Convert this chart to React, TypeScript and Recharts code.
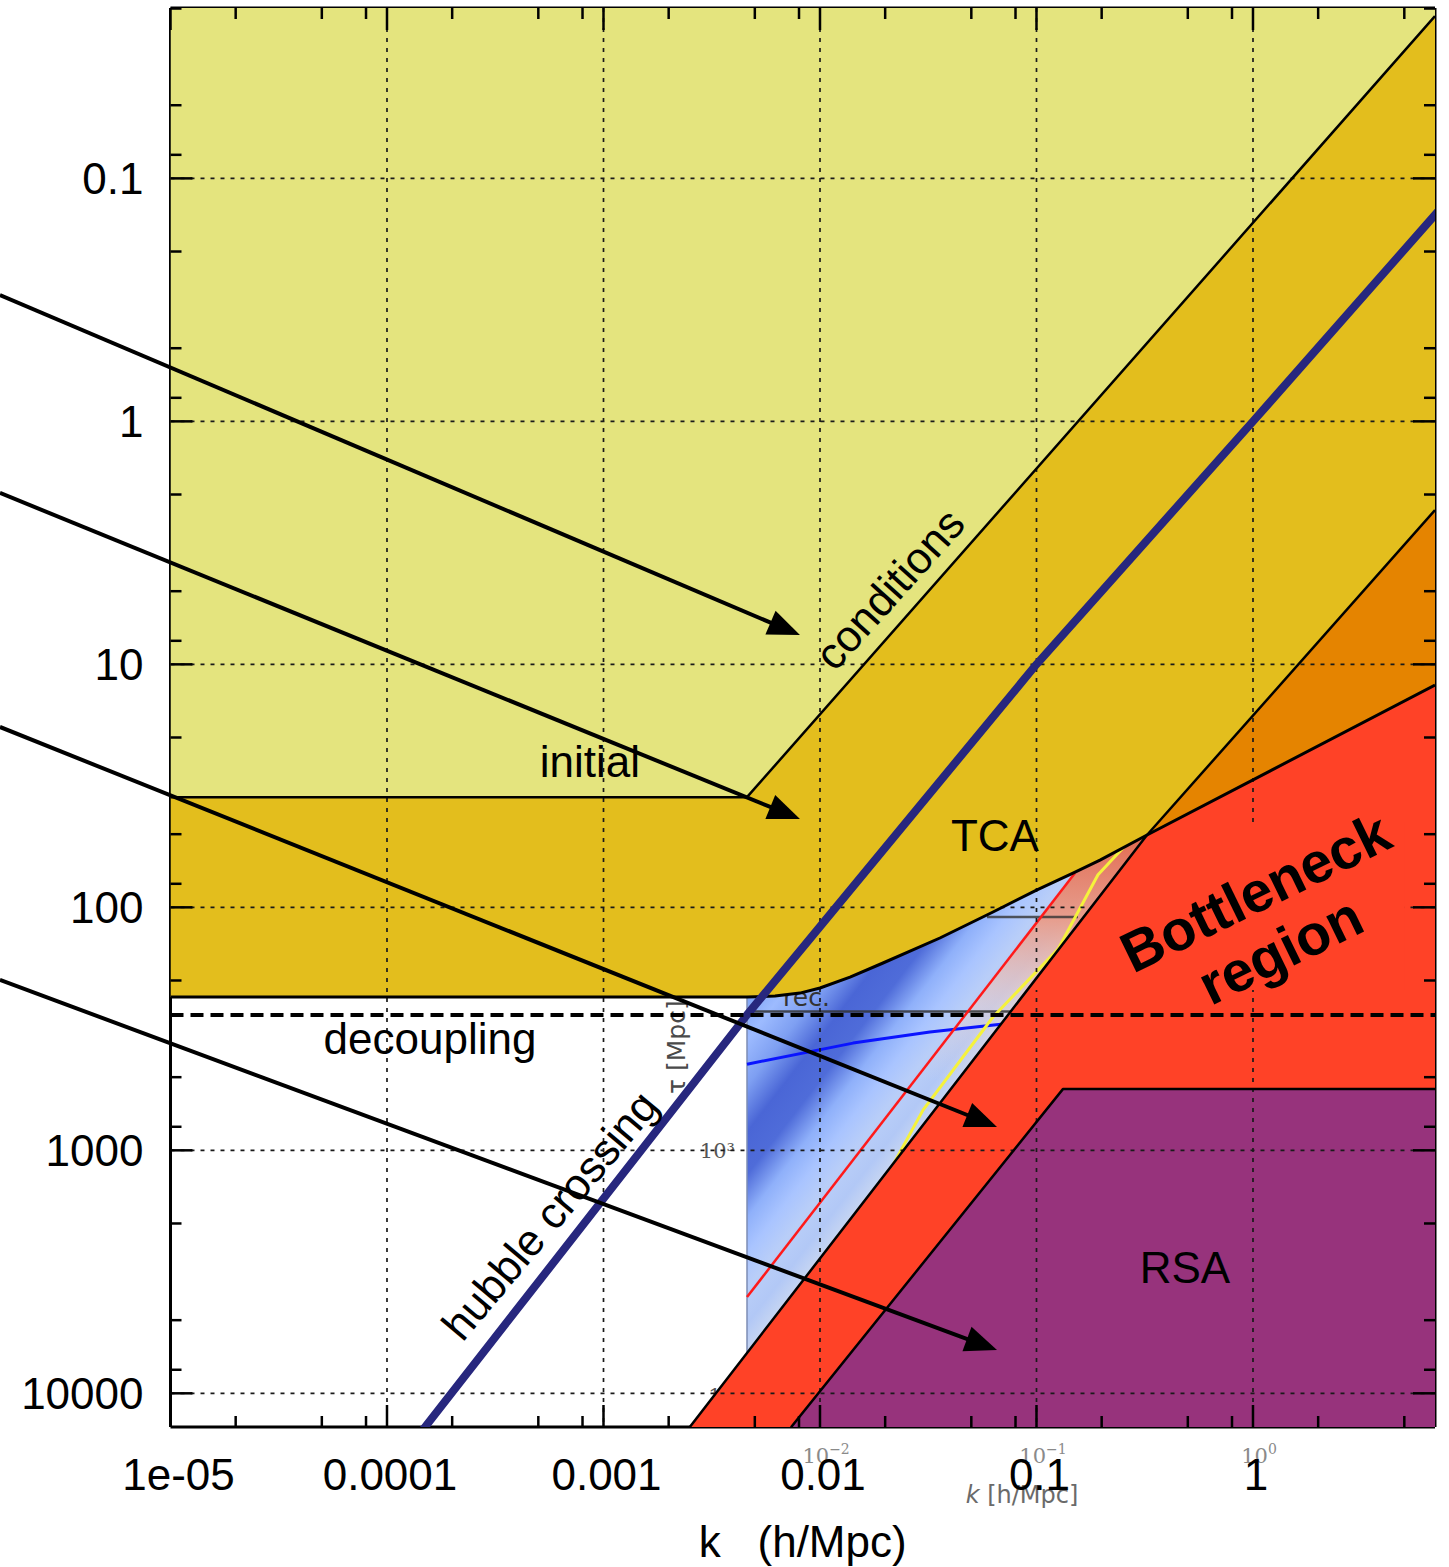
import React from "react";
import {
  ComposedChart,
  XAxis,
  YAxis,
  Scatter,
  ReferenceLine,
  ReferenceDot,
  Label
} from "recharts";

type Pt = { k: number; t: number };
type XY = { x: number; y: number };

// axis ranges (k in h/Mpc, tau in Mpc)
const K_MIN = 1e-5;
const K_MAX = 6.93;
const TAU_MIN = 0.0199;
const TAU_MAX = 13760;

const xMajor = [1e-5, 1e-4, 1e-3, 1e-2, 0.1, 1];
const xMajorLabels = ["1e-05", "0.0001", "0.001", "0.01", "0.1", "1"];
const xMinor = [
  2e-5, 5e-5, 8e-5, 2e-4, 5e-4, 8e-4, 0.002, 0.005, 0.008, 0.02, 0.05, 0.08, 0.2, 0.5, 0.8, 2, 5
];
const yMajor = [0.1, 1, 10, 100, 1000, 10000];
const yMajorLabels = ["0.1", "1", "10", "100", "1000", "10000"];
const yMinor = [
  0.02, 0.05, 0.08, 0.2, 0.5, 0.8, 2, 5, 8, 20, 50, 80, 200, 500, 800, 2000, 5000, 8000
];

// region edges
const icEdge: Pt[] = [
  { k: 1e-5, t: 35.2 },
  { k: 0.0046, t: 35.2 },
  { k: 6.93, t: 0.0215 }
];
const tcaEdge: Pt[] = [
  { k: 1e-5, t: 234 },
  { k: 0.0046, t: 234 },
  { k: 0.0062, t: 231.7 },
  { k: 0.00808, t: 225.3 },
  { k: 0.01, t: 214.8 },
  { k: 0.01376, t: 193.6 },
  { k: 0.01954, t: 169.5 },
  { k: 0.0358, t: 133.7 },
  { k: 0.063, t: 104.5 },
  { k: 0.1, t: 84.9 },
  { k: 0.1475, t: 72.3 },
  { k: 0.1965, t: 63.9 },
  { k: 0.324, t: 50.4 },
  { k: 6.93, t: 12.17 }
];
const bottleneckEdge: Pt[] = [
  { k: 0.0025, t: 13800 },
  { k: 0.324, t: 50.4 },
  { k: 6.93, t: 2.32 }
];
const rsaEdge: Pt[] = [
  { k: 0.00735, t: 13800 },
  { k: 0.1325, t: 560 },
  { k: 6.93, t: 560 }
];
const hubbleCrossing: Pt[] = [
  { k: 1.24e-4, t: 17100 },
  { k: 0.0046, t: 277 },
  { k: 0.01, t: 120 },
  { k: 0.1, t: 10 },
  { k: 1, t: 1 },
  { k: 7.2, t: 0.136 }
];
const decouplingTau = 277;

// pasted-in heat map (inset)
const heatmapBottom: Pt = { k: 0.0046, t: 6808 };
const heatmapGlow: Pt[] = [
  { k: 0.1506, t: 72.3 },
  { k: 0.1965, t: 63.9 },
  { k: 0.324, t: 50.4 },
  { k: 0.0433, t: 514 },
  { k: 0.0274, t: 514 }
];
const recLine: Pt[] = [
  { k: 0.0046, t: 268 },
  { k: 0.076, t: 268 }
];
const upperGrayLine: Pt[] = [
  { k: 0.0591, t: 109.6 },
  { k: 0.1555, t: 109.6 }
];
const blueTrack: Pt[] = [
  { k: 0.0046, t: 442 },
  { k: 0.0142, t: 362 },
  { k: 0.0322, t: 326 },
  { k: 0.07, t: 302 }
];
const redTrack: Pt[] = [
  { k: 0.0046, t: 4018 },
  { k: 0.1506, t: 72.3 }
];
const yellowTrack: Pt[] = [
  { k: 0.02174, t: 1149 },
  { k: 0.0299, t: 683 },
  { k: 0.06299, t: 282.8 },
  { k: 0.1257, t: 148.6 },
  { k: 0.1923, t: 73.5 },
  { k: 0.2591, t: 55.3 }
];
const heatmapTexts = [
  { text: "rec.", k: 0.00675, t: 255 },
  { text: "τ [Mpc]", k: 0.00216, t: 376 },
  { text: "10³", k: 0.00405, t: 1076 },
  { text: "10", k: 0.00405, t: 10965 }
];
const heatmapAxisTicks = [
  { base: "10", exp: "−2", k: 0.01067, t: 19360 },
  { base: "10", exp: "−1", k: 0.1072, t: 19360 },
  { base: "10", exp: "0", k: 1.066, t: 19360 }
];
const heatmapAxisTitle = { k: 0.0857, t: 28280 };

// red patch pasted over the grid behind the "Bottleneck region" text
const bottleneckPatch: Pt[] = [
  { k: 0.324, t: 50.4 },
  { k: 0.4225, t: 44.6 },
  { k: 5.03, t: 44.6 },
  { k: 5.03, t: 218.6 },
  { k: 0.0907, t: 218.6 }
];

const arrows: Pt[][] = [
  [{ k: 1.63e-6, t: 0.302 }, { k: 0.00808, t: 7.58 }],
  [{ k: 1.63e-6, t: 1.97 }, { k: 0.00808, t: 43.3 }],
  [{ k: 1.63e-6, t: 18.1 }, { k: 0.0657, t: 801 }],
  [{ k: 1.63e-6, t: 199 }, { k: 0.0657, t: 6640 }]
];

const regionLabels = [
  { text: "conditions", k: 0.02366, t: 5.386, angle: -48 },
  { text: "initial", k: 8.66e-4, t: 29.1, angle: 0 },
  { text: "TCA", k: 0.0643, t: 58.6, angle: 0 },
  { text: "RSA", k: 0.485, t: 3515, angle: 0 },
  { text: "decoupling", k: 1.58e-4, t: 401.6, angle: 0 },
  { text: "hubble crossing", k: 6.4e-4, t: 2030, angle: -50 }
];
const bottleneckLabels = [
  { text: "Bottleneck", k: 1.124, t: 102.6 },
  { text: "region", k: 1.467, t: 177.8 }
];

const PALE = "#E4E47E";
const GOLD = "#E3BE1D";
const ORANGE = "#E58400";
const RED = "#FF4227";
const PURPLE = "#97337C";
const NAVY = "#27277E";
const FONT = "'Liberation Sans', Arial, Helvetica, sans-serif";
const MAJOR = 22;
const MINOR = 11;

const paleArea: Pt[] = [{ k: K_MIN, t: TAU_MIN }, { k: K_MAX, t: TAU_MIN }, ...[...icEdge].reverse()];
const goldArea: Pt[] = [...icEdge, bottleneckEdge[2], ...tcaEdge.slice(0, -1).reverse()];
const orangeArea: Pt[] = [bottleneckEdge[1], bottleneckEdge[2], tcaEdge[tcaEdge.length - 1]];
const redArea: Pt[] = [
  bottleneckEdge[0],
  bottleneckEdge[1],
  tcaEdge[tcaEdge.length - 1],
  { k: K_MAX, t: 13800 }
];
const purpleArea: Pt[] = [...rsaEdge, { k: K_MAX, t: 13800 }];
const heatmapArea: Pt[] = [...tcaEdge.slice(1, -1), heatmapBottom];
const gridSegments: Pt[] = [
  ...xMajor.slice(1).flatMap((k) => [{ k, t: TAU_MIN }, { k, t: TAU_MAX }]),
  ...yMajor.flatMap((t) => [{ k: K_MIN, t }, { k: K_MAX, t }])
];

const toPath = (pts: XY[], close: boolean) =>
  pts.map((p, i) => `${i ? "L" : "M"}${p.x.toFixed(1)},${p.y.toFixed(1)}`).join(" ") +
  (close ? " Z" : "");

const noDot = () => <g />;

function fillRegion(id: string, data: Pt[], fill: string) {
  return (
    <Scatter
      key={id}
      data={data}
      xAxisId="k"
      yAxisId="tau"
      isAnimationActive={false}
      shape={noDot}
      line={(p: any) => <path d={toPath(p.points, true)} fill={fill} stroke="none" />}
    />
  );
}

function strokePath(id: string, data: Pt[], stroke: string, width: number, dash?: string, opacity = 1) {
  return (
    <Scatter
      key={id}
      data={data}
      xAxisId="k"
      yAxisId="tau"
      isAnimationActive={false}
      shape={noDot}
      line={(p: any) => (
        <path
          d={toPath(p.points, false)}
          fill="none"
          stroke={stroke}
          strokeWidth={width}
          strokeDasharray={dash}
          strokeOpacity={opacity}
          strokeLinejoin="round"
        />
      )}
    />
  );
}

// blue heat map with stripes running along the red track
function renderHeatmap(p: any) {
  const pts: XY[] = p.points;
  const p0 = pts[0];
  const a = pts[pts.length - 2];
  const b = pts[pts.length - 1];
  const len = Math.hypot(b.x - a.x, b.y - a.y);
  let nx = -(b.y - a.y) / len;
  let ny = (b.x - a.x) / len;
  let dist = (a.x - p0.x) * nx + (a.y - p0.y) * ny;
  if (dist < 0) {
    nx = -nx;
    ny = -ny;
    dist = -dist;
  }
  return (
    <g>
      <defs>
        <linearGradient
          id="heatStripes"
          gradientUnits="userSpaceOnUse"
          x1={p0.x}
          y1={p0.y}
          x2={p0.x + nx * dist}
          y2={p0.y + ny * dist}
        >
          <stop offset="0" stopColor="#7FA3F5" />
          <stop offset="0.12" stopColor="#9DBBFF" />
          <stop offset="0.25" stopColor="#7E9FF2" />
          <stop offset="0.38" stopColor="#4A66D6" />
          <stop offset="0.5" stopColor="#4F6CD9" />
          <stop offset="0.62" stopColor="#8FB0FA" />
          <stop offset="0.72" stopColor="#A9C4FF" />
          <stop offset="0.82" stopColor="#B9CEF8" />
          <stop offset="0.92" stopColor="#B2C8F6" />
          <stop offset="1" stopColor="#C6D5F2" />
        </linearGradient>
      </defs>
      <path d={toPath(pts, true)} fill="url(#heatStripes)" stroke="none" />
    </g>
  );
}

function renderGlow(p: any) {
  return (
    <g>
      <defs>
        <linearGradient id="heatGlow" x1="0" y1="0" x2="0" y2="1">
          <stop offset="0" stopColor="#E26A50" stopOpacity={1} />
          <stop offset="0.35" stopColor="#EC9A84" stopOpacity={0.9} />
          <stop offset="0.7" stopColor="#F2CEC3" stopOpacity={0.45} />
          <stop offset="1" stopColor="#F3D8D0" stopOpacity={0} />
        </linearGradient>
      </defs>
      <path d={toPath(p.points, true)} fill="url(#heatGlow)" stroke="none" />
    </g>
  );
}

function renderGrid(p: any) {
  const pts: XY[] = p.points;
  let d = "";
  for (let i = 0; i + 1 < pts.length; i += 2) {
    d += `M${pts[i].x.toFixed(1)},${pts[i].y.toFixed(1)} L${pts[i + 1].x.toFixed(1)},${pts[i + 1].y.toFixed(1)} `;
  }
  return <path d={d} fill="none" stroke="#1a1a1a" strokeWidth={1.7} strokeDasharray="4 6" />;
}

function heatmapText(p: any) {
  const { cx, cy } = p;
  const text = p.payload?.text;
  if (text === "τ [Mpc]") {
    return (
      <text
        x={cx}
        y={cy}
        textAnchor="middle"
        dy="0.35em"
        fontSize={25}
        fontFamily="'DejaVu Sans', sans-serif"
        fill="#4a4a4a"
        transform={`rotate(-90 ${cx} ${cy})`}
      >
        {text}
      </text>
    );
  }
  if (text === "rec.") {
    return (
      <text x={cx} y={cy} fontSize={25} fontFamily="'DejaVu Sans', sans-serif" fill="#333">
        {text}
      </text>
    );
  }
  return (
    <text x={cx} y={cy} textAnchor="end" fontSize={21} fontFamily="'DejaVu Serif', serif" fill="#555">
      {text}
    </text>
  );
}

function arrowShape(p: any) {
  const { x1, y1, x2, y2 } = p;
  const dx = x2 - x1;
  const dy = y2 - y1;
  const len = Math.hypot(dx, dy);
  const ux = dx / len;
  const uy = dy / len;
  const L = 32;
  const W = 13;
  const bx = x2 - ux * L;
  const by = y2 - uy * L;
  return (
    <g>
      <line x1={x1} y1={y1} x2={bx + ux * 4} y2={by + uy * 4} stroke="#000" strokeWidth={4} />
      <path
        d={`M${x2},${y2} L${bx - uy * W},${by + ux * W} L${bx + uy * W},${by - ux * W} Z`}
        fill="#000"
      />
    </g>
  );
}

const tickStroke = { stroke: "#000", strokeWidth: 2.5 };

function bottomTick(p: any) {
  const i = xMajor.indexOf(p.payload.value);
  return (
    <g>
      <line x1={p.x} y1={p.y} x2={p.x} y2={p.y - (i >= 0 ? MAJOR : MINOR)} {...tickStroke} />
      {i >= 0 ? (
        <text
          x={p.x + (i === 0 ? 8 : 3)}
          y={p.y + 63}
          textAnchor="middle"
          fontSize={44}
          fontFamily={FONT}
          fill="#000"
        >
          {xMajorLabels[i]}
        </text>
      ) : null}
    </g>
  );
}

function topTick(p: any) {
  const major = xMajor.includes(p.payload.value);
  return <line x1={p.x} y1={p.y} x2={p.x} y2={p.y + (major ? MAJOR : MINOR)} {...tickStroke} />;
}

function leftTick(p: any) {
  const i = yMajor.indexOf(p.payload.value);
  return (
    <g>
      <line x1={p.x} y1={p.y} x2={p.x + (i >= 0 ? MAJOR : MINOR)} y2={p.y} {...tickStroke} />
      {i >= 0 ? (
        <text x={p.x - 27} y={p.y} dy="0.36em" textAnchor="end" fontSize={44} fontFamily={FONT} fill="#000">
          {yMajorLabels[i]}
        </text>
      ) : null}
    </g>
  );
}

function rightTick(p: any) {
  const major = yMajor.includes(p.payload.value);
  return <line x1={p.x} y1={p.y} x2={p.x - (major ? MAJOR : MINOR)} y2={p.y} {...tickStroke} />;
}

const frame = { stroke: "#000", strokeWidth: 3 };

export default function App() {
  return (
    <div style={{ position: "absolute", left: 0, top: 0, background: "#fff" }}>
      <ComposedChart width={1449} height={1567} margin={{ top: 4, right: 10, bottom: 80, left: 110.5 }}>
        {fillRegion("pale", paleArea, PALE)}
        <Scatter
          data={heatmapArea}
          xAxisId="k"
          yAxisId="tau"
          isAnimationActive={false}
          shape={noDot}
          line={renderHeatmap}
        />
        <Scatter
          data={heatmapGlow}
          xAxisId="k"
          yAxisId="tau"
          isAnimationActive={false}
          shape={noDot}
          line={renderGlow}
        />
        {strokePath("heatEdge", [tcaEdge[1], heatmapBottom], "#7d8db5", 1.5)}
        {strokePath("recLine", recLine, "#333", 2.5, undefined, 0.85)}
        {strokePath("upperGray", upperGrayLine, "#333", 2.5, undefined, 0.8)}
        {strokePath("blueTrack", blueTrack, "#0a14ff", 3)}
        {strokePath("redTrack", redTrack, "#ff1a1a", 2.5)}
        {strokePath("yellowTrack", yellowTrack, "#f5f23c", 3)}
        <Scatter
          data={heatmapTexts}
          xAxisId="k"
          yAxisId="tau"
          isAnimationActive={false}
          shape={heatmapText}
        />
        {fillRegion("gold", goldArea, GOLD)}
        {fillRegion("orange", orangeArea, ORANGE)}
        {fillRegion("red", redArea, RED)}
        {fillRegion("purple", purpleArea, PURPLE)}
        <Scatter
          data={gridSegments}
          xAxisId="k"
          yAxisId="tau"
          isAnimationActive={false}
          shape={noDot}
          line={renderGrid}
        />
        {fillRegion("patch", bottleneckPatch, RED)}
        {strokePath("icEdge", icEdge, "#000", 2.5)}
        {strokePath("tcaEdge", tcaEdge, "#000", 3)}
        {strokePath("bottleneckEdge", bottleneckEdge, "#000", 2.5)}
        {strokePath("rsaEdge", rsaEdge, "#000", 2.5)}
        {strokePath("hubble", hubbleCrossing, NAVY, 8)}
        {strokePath(
          "decoupling",
          [
            { k: K_MIN, t: decouplingTau },
            { k: K_MAX, t: decouplingTau }
          ],
          "#000",
          4,
          "13 7"
        )}

        {arrows.map((a, i) => (
          <ReferenceLine
            key={`arrow${i}`}
            xAxisId="k"
            yAxisId="tau"
            ifOverflow="visible"
            zIndex={1500}
            segment={[
              { x: a[0].k, y: a[0].t },
              { x: a[1].k, y: a[1].t }
            ]}
            shape={arrowShape}
          />
        ))}

        {regionLabels.map((l) => (
          <ReferenceDot
            key={l.text}
            xAxisId="k"
            yAxisId="tau"
            x={l.k}
            y={l.t}
            r={0}
            ifOverflow="visible"
            zIndex={1600}
            shape={(p: any) => (
              <text
                x={p.cx}
                y={p.cy}
                textAnchor="middle"
                fontSize={44}
                fontFamily={FONT}
                fill="#000"
                transform={l.angle ? `rotate(${l.angle} ${p.cx} ${p.cy})` : undefined}
              >
                {l.text}
              </text>
            )}
          />
        ))}
        {bottleneckLabels.map((l) => (
          <ReferenceDot
            key={l.text}
            xAxisId="k"
            yAxisId="tau"
            x={l.k}
            y={l.t}
            r={0}
            ifOverflow="visible"
            zIndex={1600}
            shape={(p: any) => (
              <text
                x={p.cx}
                y={p.cy}
                textAnchor="middle"
                fontSize={57}
                fontWeight="bold"
                fontFamily={FONT}
                fill="#000"
                transform={`rotate(-26 ${p.cx} ${p.cy})`}
              >
                {l.text}
              </text>
            )}
          />
        ))}
        {heatmapAxisTicks.map((l) => (
          <ReferenceDot
            key={l.exp}
            xAxisId="k"
            yAxisId="tau"
            x={l.k}
            y={l.t}
            r={0}
            ifOverflow="visible"
            zIndex={1600}
            shape={(p: any) => (
              <text
                x={p.cx}
                y={p.cy}
                textAnchor="middle"
                fontSize={21}
                fontFamily="'DejaVu Serif', serif"
                fill="#8a8a8a"
              >
                {l.base}
                <tspan dy={-9} fontSize={14}>
                  {l.exp}
                </tspan>
              </text>
            )}
          />
        ))}
        <ReferenceDot
          xAxisId="k"
          yAxisId="tau"
          x={heatmapAxisTitle.k}
          y={heatmapAxisTitle.t}
          r={0}
          ifOverflow="visible"
          zIndex={1600}
          shape={(p: any) => (
            <text
              x={p.cx}
              y={p.cy}
              textAnchor="middle"
              fontSize={24}
              fontFamily="'DejaVu Sans', sans-serif"
              fill="#6a6a6a"
            >
              <tspan fontStyle="italic">k</tspan> [h/Mpc]
            </text>
          )}
        />

        <XAxis
          xAxisId="k"
          dataKey="k"
          type="number"
          scale="log"
          domain={[K_MIN, K_MAX]}
          allowDataOverflow
          ticks={[...xMajor, ...xMinor]}
          interval={0}
          tick={bottomTick}
          tickLine={false}
          tickSize={0}
          tickMargin={0}
          axisLine={frame}
          height={60}
        >
          <Label
            content={(p: any) => {
              const vb = p.viewBox;
              return (
                <text
                  x={vb.x + vb.width / 2}
                  y={vb.y + 130}
                  textAnchor="middle"
                  fontSize={44}
                  fontFamily={FONT}
                  fill="#000"
                >
                  {"k\u00a0\u00a0\u00a0(h/Mpc)"}
                </text>
              );
            }}
          />
        </XAxis>
        <XAxis
          xAxisId="top"
          orientation="top"
          dataKey="k"
          type="number"
          scale="log"
          domain={[K_MIN, K_MAX]}
          allowDataOverflow
          ticks={[...xMajor, ...xMinor]}
          interval={0}
          tick={topTick}
          tickLine={false}
          tickSize={0}
          tickMargin={0}
          axisLine={frame}
          height={4}
        />
        <YAxis
          yAxisId="tau"
          dataKey="t"
          type="number"
          scale="log"
          reversed
          domain={[TAU_MIN, TAU_MAX]}
          allowDataOverflow
          ticks={[...yMajor, ...yMinor]}
          interval={0}
          tick={leftTick}
          tickLine={false}
          tickSize={0}
          tickMargin={0}
          axisLine={frame}
          width={60}
        />
        <YAxis
          yAxisId="right"
          orientation="right"
          dataKey="t"
          type="number"
          scale="log"
          reversed
          domain={[TAU_MIN, TAU_MAX]}
          allowDataOverflow
          ticks={[...yMajor, ...yMinor]}
          interval={0}
          tick={rightTick}
          tickLine={false}
          tickSize={0}
          tickMargin={0}
          axisLine={frame}
          width={4}
        />
      </ComposedChart>
    </div>
  );
}
